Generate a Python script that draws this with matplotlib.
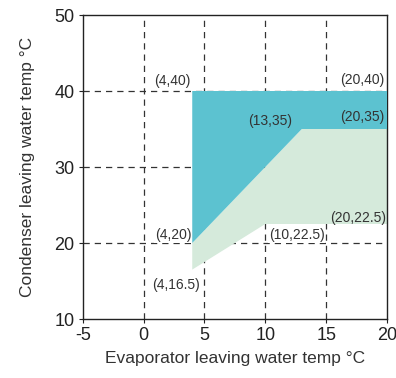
import matplotlib.pyplot as plt
from matplotlib.patches import Polygon

plt.rcParams['font.family'] = ['Liberation Sans', 'DejaVu Sans']
plt.rcParams['axes.unicode_minus'] = False

# operating envelope corners
upper_x = [4, 20, 20, 13, 4]
upper_y = [40, 40, 35, 35, 20]
lower_x = [4, 13, 20, 20, 10, 4]
lower_y = [20, 35, 35, 22.5, 22.5, 16.5]

# point labels: text, x, y, ha, boxed
labels = ["(4,40)", "(20,40)", "(13,35)", "(20,35)", "(20,22.5)", "(10,22.5)", "(4,20)", "(4,16.5)"]
lab_x = [3.85, 19.8, 10.4, 19.75, 19.9, 12.6, 2.45, 2.65]
lab_y = [41.3, 41.4, 36.05, 36.6, 23.3, 21.05, 21.05, 14.5]
lab_ha = ["right", "right", "center", "right", "right", "center", "center", "center"]
lab_box = [True, False, False, False, False, True, True, True]

xticks = [-5, 0, 5, 10, 15, 20]
yticks = [10, 20, 30, 40, 50]

fig = plt.figure(figsize=(3.96, 3.78), dpi=100)
ax = fig.add_axes([82.7 / 396, 1 - 319 / 378, (387 - 82.7) / 396, (319 - 15) / 378])

for gx in [0, 5, 10, 15]:
    ax.axvline(gx, color="#333333", lw=0.9, ls=(0, (5, 4)), zorder=1)
for gy in [20, 30, 40]:
    ax.axhline(gy, color="#333333", lw=0.9, ls=(0, (5, 4)), zorder=1)

ax.add_patch(Polygon(list(zip(lower_x, lower_y)), closed=True, fc="#d5eadb", ec="none", zorder=2))
ax.add_patch(Polygon(list(zip(upper_x, upper_y)), closed=True, fc="#5cc2d0", ec="none", zorder=3))

for t, x, y, ha, box in zip(labels, lab_x, lab_y, lab_ha, lab_box):
    kw = {}
    if box:
        kw["bbox"] = dict(fc="white", ec="none", pad=0.5)
    ax.text(x, y, t, ha=ha, va="center", fontsize=10, color="#333333", zorder=4, **kw)

ax.set_xlim(-5, 20)
ax.set_ylim(10, 50)
ax.set_xticks(xticks)
ax.set_yticks(yticks)
ax.tick_params(labelsize=13, colors="#222222", length=3, width=0.8, pad=3)
for s in ax.spines.values():
    s.set_linewidth(1.0)
    s.set_color("#222222")

ax.set_xlabel("Evaporator leaving water temp °C", fontsize=12.5, color="#333333", labelpad=5)
ax.set_ylabel("Condenser leaving water temp °C", fontsize=12.5, color="#333333", labelpad=14)

fig.savefig("out.png", dpi=100)
